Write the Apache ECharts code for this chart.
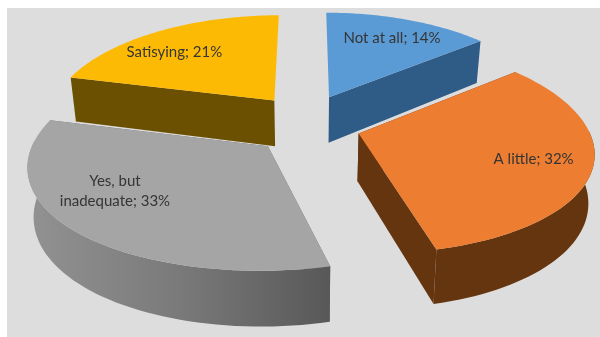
<!DOCTYPE html>
<html>
<head>
<meta charset="utf-8">
<style>html,body{margin:0;padding:0;background:#fff}#chart{width:600px;height:337px}</style>
<script src="https://cdn.jsdelivr.net/npm/echarts@6/dist/echarts.min.js"></script>
</head>
<body>
<div id="chart"></div>
<script>
// Survey answers, clockwise from twelve o'clock
const categories = ['Not at all', 'A little', 'Yes, but\ninadequate', 'Satisying'];
const shares = [14, 32, 33, 21];

const topColors = ['#5B9BD5', '#ED7D31', '#A5A5A5', '#FDBA05'];
const wallColors = ['#2F5C87', '#65350F', null, '#6A5000'];
// Painter's order: far slices first
const drawOrder = [0, 3, 2, 1];
// Sideways pull of each slice away from the centre, in pie radii
const explodeX = [0.226, 0.23, 0.24, 0.25];
// Label anchor relative to each slice's tip, in pixels
const labelOffsets = [[63, -59], [175, 26], [-153, 45], [-100, -48]];

// Oblique camera used to lay the exploded pie on its plane
const cam = { cx: 308, cy: 124, sx: 228, sy: 102, kx: 0.16, ky: 0.13, ey: 0.3, depth: 47, converge: 0.022 };

const total = shares.reduce((a, b) => a + b, 0);
let running = 0;
const rows = shares.map((v, i) => {
  const start = running / total * 2 * Math.PI;
  running += v;
  return { i, start, end: running / total * 2 * Math.PI };
});

function project(X, Y) {
  return [cam.cx + cam.sx * X / (1 + cam.kx * Y), cam.cy - cam.sy * Y / (1 + cam.ky * Y), 1 + cam.ky * Y];
}
function floorOf(p) {
  return [cam.cx + (p[0] - cam.cx) * (1 - cam.converge), p[1] + cam.depth / p[2]];
}

function renderSlice(params, api) {
  const i = api.value(0);
  const row = rows[i];
  const mid = (row.start + row.end) / 2;
  const ox = explodeX[i] * Math.sin(mid), oy = cam.ey * Math.cos(mid);
  const tip = project(ox, oy);
  const rim = [];
  const front = [];
  const steps = 60;
  for (let n = 0; n <= steps; n++) {
    const a = row.start + (row.end - row.start) * n / steps;
    const p = project(ox + Math.sin(a), oy + Math.cos(a));
    rim.push(p);
    // Only the part of the curved wall that faces the viewer gets drawn
    if (Math.cos(a) < 0.05) front.push(p);
  }
  const xy = p => [p[0], p[1]];
  const wallFill = wallColors[i] || {
    type: 'linear', x: 0, y: 0, x2: 1, y2: 0,
    colorStops: [{ offset: 0, color: '#929292' }, { offset: 0.5, color: '#7A7A7A' }, { offset: 1, color: '#585858' }]
  };
  const sideFill = wallColors[i] || '#6a6a6a';
  const poly = (points, fill) => ({ type: 'polygon', shape: { points }, style: { fill, stroke: null } });
  const children = [];
  // A radial face that points straight back at twelve o'clock is out of sight
  [[row.start, 0], [row.end, steps]].forEach(([angle, n]) => {
    if (Math.cos(angle) < 0.99) {
      children.push(poly([xy(tip), xy(rim[n]), floorOf(rim[n]), floorOf(tip)], sideFill));
    }
  });
  if (front.length > 1) {
    children.push(poly(front.map(xy).concat(front.map(floorOf).reverse()), wallFill));
  }
  children.push(
    poly([xy(tip)].concat(rim.map(xy)), topColors[i]),
    {
      type: 'text',
      style: {
        text: categories[i] + '; ' + shares[i] + '%',
        x: tip[0] + labelOffsets[i][0],
        y: tip[1] + labelOffsets[i][1],
        align: 'center',
        verticalAlign: 'middle',
        fill: '#353535',
        font: '15px Lato',
        lineHeight: 20
      }
    }
  );
  return { type: 'group', children };
}

const chart = echarts.init(document.getElementById('chart'), null, { renderer: 'canvas' });
chart.setOption({
  animation: false,
  backgroundColor: '#FFFFFF',
  graphic: [{ type: 'rect', z: -10, shape: { x: 7, y: 8, width: 593, height: 329 }, style: { fill: '#DDDDDD' } }],
  series: [{
    type: 'custom',
    coordinateSystem: 'none',
    renderItem: renderSlice,
    data: drawOrder.map(i => ({ name: categories[i], value: [i, shares[i]] }))
  }]
});
</script>
</body>
</html>
